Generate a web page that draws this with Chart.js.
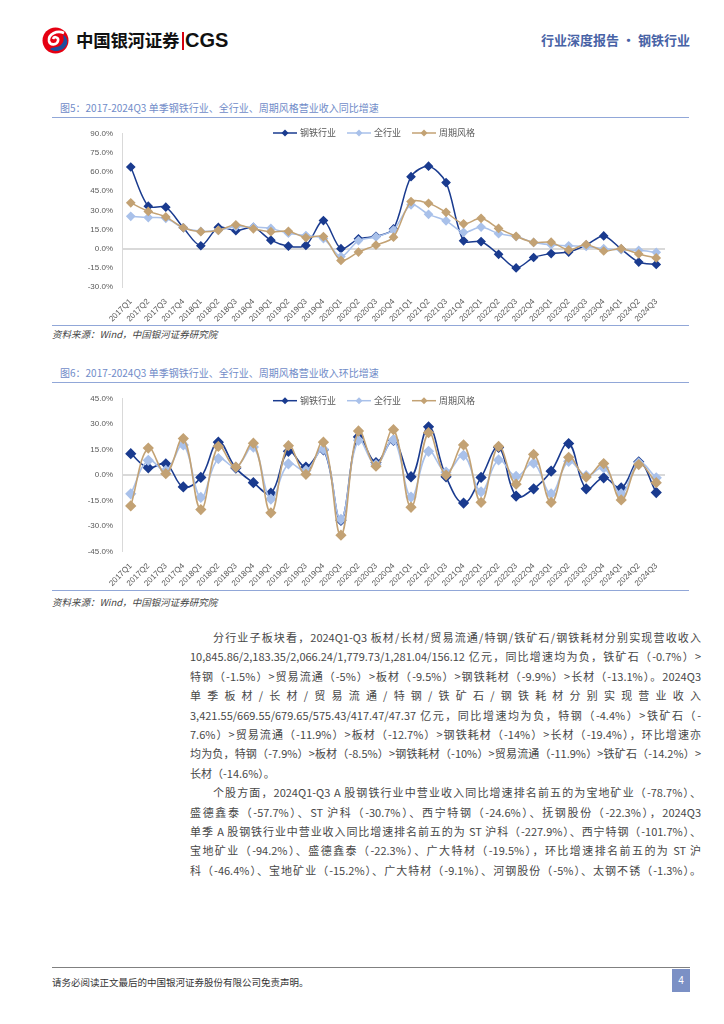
<!DOCTYPE html>
<html>
<head>
<meta charset="utf-8">
<script src="https://cdn.jsdelivr.net/npm/chart.js@4.4.1/dist/chart.umd.min.js"></script>
<style>
  body { margin: 0; background: #fff; }
  #page { position: relative; width: 724px; height: 1024px; overflow: hidden; font-family: "Noto Sans CJK SC", sans-serif; color: #333; }
  .abs { position: absolute; }
  .brand { left: 76px; top: 27px; font-size: 17.5px; font-weight: 700; color: #111; letter-spacing: -0.3px; line-height: 26px; }
  .bar { left: 182px; top: 32px; width: 1.5px; height: 18px; background: #d7000f; }
  .cgs { left: 185px; top: 27px; font-family: "Liberation Sans", Arial, sans-serif; font-size: 20px; font-weight: 700; color: #111; line-height: 26px; }
  .hdr-right { right: 34px; top: 31px; font-size: 13px; font-weight: 700; color: #4863a6; line-height: 18px; }
  .title { left: 60px; font-size: 10px; color: #6f8bc8; line-height: 14px; }
  .rule { left: 52px; width: 637px; height: 0; border-top: 1.5px solid #91a7d8; }
  .source { left: 52px; font-size: 9.5px; font-style: italic; color: #444; line-height: 14px; }
  .box { left: 52px; width: 640px; height: 205px; }
  #text { left: 190px; top: 628px; width: 511px; font-size: 11px; color: #484848; }
  #text div { height: 19.4px; line-height: 19.4px; white-space: nowrap; text-align: justify; text-align-last: justify; }
  #text div.first { padding-left: 23px; }
  #text div.last { text-align-last: left; }
  .foot-rule { left: 52px; top: 967px; width: 638px; height: 0; border-top: 1px solid #808080; }
  .foot { left: 52px; top: 975px; font-size: 9.5px; color: #333; line-height: 14px; }
  .pno { left: 672px; top: 969px; width: 18px; height: 23px; background: #7b90c5; color: #fff; font-family: "Liberation Sans", sans-serif; font-size: 10px; line-height: 23px; text-align: center; }
</style>
</head>
<body>
<div id="page">
  <svg class="abs" style="left:42px;top:27px" width="27" height="27" viewBox="0 0 27 27">
    <circle cx="13.5" cy="13.5" r="13" fill="#e50012"/>
    <path d="M22 6 C15 3 6 7 7 14 C8 19 15 18 16 14 C17 10 12 9 11 12" fill="none" stroke="#fff" stroke-width="2.6"/>
    <path d="M8 22 C13 26 22 24 25 17 C26 13 24 9 21 8 C23 13 21 19 14 20 C11 20.5 9 21 8 22 Z" fill="#1d4e9e"/>
  </svg>
  <div class="abs brand">中国银河证券</div>
  <div class="abs bar"></div>
  <div class="abs cgs">CGS</div>
  <div class="abs hdr-right">行业深度报告 · 钢铁行业</div>

  <div class="abs title" style="top:101px">图5：2017-2024Q3 单季钢铁行业、全行业、周期风格营业收入同比增速</div>
  <div class="abs rule" style="top:117px"></div>
  <div class="abs box" style="top:120px"><canvas id="yoy"></canvas></div>
  <div class="abs rule" style="top:325px"></div>
  <div class="abs source" style="top:327px">资料来源：Wind，中国银河证券研究院</div>

  <div class="abs title" style="top:366px">图6：2017-2024Q3 单季钢铁行业、全行业、周期风格营业收入环比增速</div>
  <div class="abs rule" style="top:382px"></div>
  <div class="abs box" style="top:385px"><canvas id="qoq"></canvas></div>
  <div class="abs rule" style="top:590px"></div>
  <div class="abs source" style="top:595px">资料来源：Wind，中国银河证券研究院</div>

  <div class="abs" id="text">
    <div class="first">分行业子板块看，2024Q1-Q3 板材/长材/贸易流通/特钢/铁矿石/钢铁耗材分别实现营收收入</div>
    <div>10,845.86/2,183.35/2,066.24/1,779.73/1,281.04/156.12 亿元，同比增速均为负，铁矿石（-0.7%）&gt;</div>
    <div>特钢（-1.5%）&gt;贸易流通（-5%）&gt;板材（-9.5%）&gt;钢铁耗材（-9.9%）&gt;长材（-13.1%）。2024Q3</div>
    <div>单季板材/长材/贸易流通/特钢/铁矿石/钢铁耗材分别实现营业收入</div>
    <div>3,421.55/669.55/679.65/575.43/417.47/47.37 亿元，同比增速均为负，特钢（-4.4%）&gt;铁矿石（-</div>
    <div>7.6%）&gt;贸易流通（-11.9%）&gt;板材（-12.7%）&gt;钢铁耗材（-14%）&gt;长材（-19.4%），环比增速亦</div>
    <div>均为负，特钢（-7.9%）&gt;板材（-8.5%）&gt;钢铁耗材（-10%）&gt;贸易流通（-11.9%）&gt;铁矿石（-14.2%）&gt;</div>
    <div class="last">长材（-14.6%）。</div>
    <div class="first">个股方面，2024Q1-Q3 A 股钢铁行业中营业收入同比增速排名前五的为宝地矿业（-78.7%）、</div>
    <div>盛德鑫泰（-57.7%）、ST 沪科（-30.7%）、西宁特钢（-24.6%）、抚钢股份（-22.3%），2024Q3</div>
    <div>单季 A 股钢铁行业中营业收入同比增速排名前五的为 ST 沪科（-227.9%）、西宁特钢（-101.7%）、</div>
    <div>宝地矿业（-94.2%）、盛德鑫泰（-22.3%）、广大特材（-19.5%），环比增速排名前五的为 ST 沪</div>
    <div>科（-46.4%）、宝地矿业（-15.2%）、广大特材（-9.1%）、河钢股份（-5%）、太钢不锈（-1.3%）。</div>
  </div>

  <div class="abs foot-rule"></div>
  <div class="abs foot">请务必阅读正文最后的中国银河证券股份有限公司免责声明。</div>
  <div class="abs pno">4</div>
</div>

<script>
// 季度
const quarters = [
  '2017Q1', '2017Q2', '2017Q3', '2017Q4', '2018Q1', '2018Q2', '2018Q3', '2018Q4',
  '2019Q1', '2019Q2', '2019Q3', '2019Q4', '2020Q1', '2020Q2', '2020Q3', '2020Q4',
  '2021Q1', '2021Q2', '2021Q3', '2021Q4', '2022Q1', '2022Q2', '2022Q3', '2022Q4',
  '2023Q1', '2023Q2', '2023Q3', '2023Q4', '2024Q1', '2024Q2', '2024Q3'
];
const seriesNames = ['钢铁行业', '全行业', '周期风格'];

// 图5 同比 (%)
const yoySteel = [64.0, 33.3, 32.5, 16.4, 2.3, 16.7, 14.1, 16.7, 6.7, 2.0, 2.6, 22.0, 0.0, 7.7, 9.7, 15.5,
  56.4, 64.6, 51.8, 6.2, 5.6, -4.4, -15.1, -6.9, -3.8, -2.6, 2.8, 10.0, -0.3, -10.5, -12.3];
const yoyAll = [25.4, 24.4, 23.8, 16.4, 13.6, 14.4, 17.2, 16.9, 15.9, 12.1, 10.3, 7.9, -6.2, 6.4, 9.2, 14.6,
  34.4, 26.9, 21.8, 12.8, 16.9, 11.8, 9.5, 4.9, 3.1, 2.3, 1.8, 0.0, -0.8, -1.3, -2.8];
const yoyCycle = [35.9, 29.2, 24.9, 16.4, 13.3, 14.4, 18.7, 15.6, 13.3, 13.6, 8.7, 9.5, -9.2, -2.6, 2.8, 9.0,
  36.9, 35.6, 28.5, 19.5, 23.8, 15.9, 9.7, 4.9, 5.1, -1.0, 3.3, -1.8, 0.0, -4.1, -7.2];
const yoyTicks = [-30, -15, 0, 15, 30, 45, 60, 75, 90];

// 图6 环比 (%)
const qoqSteel = [12.6, 4.3, 6.6, -7.0, -1.4, 19.4, 4.1, -4.5, -10.7, 14.0, 4.7, 14.9, -26.8, 22.5, 7.4, 20.4,
  -1.0, 28.5, -1.0, -16.5, -1.4, 16.3, -12.4, -8.1, 2.3, 18.6, -8.1, -1.6, -7.6, 7.8, -10.3];
const qoqAll = [-11.1, 8.7, 2.7, 17.8, -13.2, 9.7, 4.7, 16.5, -14.2, 6.6, 2.7, 15.3, -26.2, 20.5, 6.2, 20.8,
  -13.0, 14.0, 1.7, 11.6, -9.9, 8.9, -0.8, 7.0, -11.1, 8.1, -0.4, 4.3, -11.1, 7.2, -1.6];
const qoqCycle = [-18.2, 15.9, 0.8, 21.5, -20.4, 16.9, 4.7, 18.8, -22.3, 17.3, 0.4, 19.4, -35.5, 26.0, 5.2, 26.8,
  -19.0, 25.0, 0.0, 17.8, -16.1, 16.9, -5.4, 12.2, -16.1, 10.5, -1.2, 6.8, -14.7, 6.2, -4.5];
const qoqTicks = [-45, -30, -15, 0, 15, 30, 45];

const colors = ['#1a3b8f', '#a9c1ea', '#c3a274'];

// 图例：线段 + 菱形
const lineLegend = {
  id: 'lineLegend',
  afterDraw(chart, args, opts) {
    const ctx = chart.ctx;
    ctx.save();
    ctx.font = '9px "Noto Sans CJK SC"';
    ctx.textBaseline = 'middle';
    let x = opts.x;
    const y = opts.y;
    chart.data.datasets.forEach(ds => {
      ctx.strokeStyle = ds.borderColor;
      ctx.lineWidth = 1.5;
      ctx.beginPath();
      ctx.moveTo(x, y);
      ctx.lineTo(x + 24, y);
      ctx.stroke();
      ctx.fillStyle = ds.borderColor;
      ctx.beginPath();
      ctx.moveTo(x + 12, y - 3.5);
      ctx.lineTo(x + 15.5, y);
      ctx.lineTo(x + 12, y + 3.5);
      ctx.lineTo(x + 8.5, y);
      ctx.closePath();
      ctx.fill();
      ctx.fillStyle = '#595959';
      ctx.fillText(ds.label, x + 27, y);
      x += 27 + ctx.measureText(ds.label).width + 11;
    });
    ctx.restore();
  }
};

function makeChart(id, series, ticks, opt) {
  const datasets = series.map((d, i) => ({
    label: seriesNames[i],
    data: d,
    borderColor: colors[i],
    backgroundColor: colors[i],
    borderWidth: opt.lineWidth,
    pointStyle: 'rectRot',
    pointRadius: opt.radius,
    pointHoverRadius: opt.radius,
    tension: opt.tension,
    order: 2 - i
  }));

  return new Chart(document.getElementById(id), {
    type: 'line',
    data: { labels: quarters, datasets: datasets },
    plugins: [lineLegend],
    options: {
      responsive: true,
      maintainAspectRatio: false,
      animation: false,
      layout: { padding: { top: opt.top, right: 27, left: 0, bottom: 0 } },
      plugins: {
        legend: { display: false },
        tooltip: { enabled: false },
        lineLegend: { x: 221, y: opt.legendY }
      },
      scales: {
        x: {
          offset: true,
          grid: { display: false },
          border: { display: false },
          ticks: {
            autoSkip: false,
            minRotation: 45,
            maxRotation: 45,
            padding: 2,
            color: '#595959',
            font: { family: '"Liberation Sans"', size: 8 }
          },
          afterFit: s => { s.height = opt.xHeight; }
        },
        y: {
          min: ticks[0],
          max: ticks[ticks.length - 1],
          afterBuildTicks: s => { s.ticks = ticks.map(v => ({ value: v })); },
          grid: {
            drawTicks: false,
            color: c => (c.tick && c.tick.value === 0 ? '#d9d9d9' : 'rgba(0,0,0,0)'),
            lineWidth: 2
          },
          border: { display: true, color: '#d9d9d9', width: 1 },
          ticks: {
            padding: 9,
            color: '#595959',
            font: { family: '"Liberation Sans"', size: 8 },
            callback: v => Number(v).toFixed(1) + '%'
          },
          afterFit: s => { s.width = 70; }
        }
      }
    }
  });
}

makeChart('yoy', [yoySteel, yoyAll, yoyCycle], yoyTicks,
  { top: 11, xHeight: 38, legendY: 13, radius: 3.8, lineWidth: 1.5, tension: 0.3 });
makeChart('qoq', [qoqSteel, qoqAll, qoqCycle], qoqTicks,
  { top: 11.7, xHeight: 38.7, legendY: 15.7, radius: 4.5, lineWidth: 1.6, tension: 0.4 });
</script>
</body>
</html>
